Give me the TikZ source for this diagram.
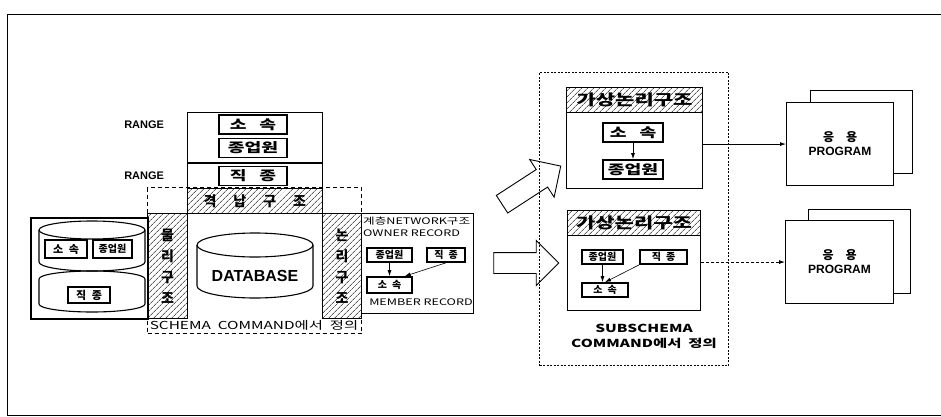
\documentclass[tikz,border=0pt]{standalone}
\usepackage{fontspec}
\setmainfont{Liberation Sans}
\newfontfamily\kr{Noto Sans CJK KR}
\newfontfamily\krwide[FakeStretch=1.4]{Noto Sans CJK KR}
\usetikzlibrary{arrows.meta, positioning, shapes.arrows, patterns.meta}

\begin{document}
\begin{tikzpicture}[x=1pt, y=-1pt,
  frame/.style={draw, line width=0.8pt},
  box/.style={draw, line width=1.1pt, inner sep=0pt},
  hatchbox/.style={box, pattern={Lines[angle=45, distance=4pt, line width=0.6pt]}, font=\kr\bfseries\fontsize{14}{21}\selectfont},
  tag/.style={draw, line width=1.6pt, inner sep=0pt, fill=white, font=\kr\bfseries\fontsize{10}{10}\selectfont},
  bigtag/.style={tag, minimum height=19pt, font=\krwide\bfseries\fontsize{13}{13}\selectfont},
  rangelbl/.style={inner sep=0pt, font=\bfseries\fontsize{11}{12}\selectfont},
  hollow/.style={draw, line width=0.9pt, single arrow, single arrow head extend=12pt, inner xsep=0pt, inner ysep=10pt, fill=white},
  link/.style={-{Latex[length=6pt,width=4pt]}, line width=0.8pt}
]
\useasboundingbox (0,0) rectangle (941,417);
\draw[frame] (941,14) -- (7,14) -- (7,415) -- (941,415);

% schema side
\node[box, minimum width=135pt, minimum height=76pt, anchor=north west] (stack) at (187,112) {};
\draw[line width=1.1pt] (stack.west |- 0,163) -- (stack.east |- 0,163);
\node[bigtag, minimum width=68pt] (rsosok) at (253,124.5) {소\quad 속};
\node[bigtag, minimum width=68pt] (rjong) at (253,148) {종업원};
\node[bigtag, minimum width=68pt] (rjik) at (253,176) {직\quad 종};
\node[rangelbl, left=54pt of rsosok] (range1) {RANGE};
\node[rangelbl, left=54pt of rjik] (range2) {RANGE};

\node[hatchbox, minimum width=135pt, minimum height=25pt, anchor=north west] (store) at (187,188) {격\hspace{17pt}납\hspace{17pt}구\hspace{17pt}조};
\node[hatchbox, minimum width=40pt, minimum height=105pt, anchor=north west, align=center] (phys) at (147,213) {물\\리\\구\\조};
\node[hatchbox, minimum width=39pt, minimum height=105pt, anchor=north west, align=center] (logic) at (322,213) {논\\리\\구\\조};
\node[draw, line width=1.3pt, dash pattern=on 4pt off 3pt, inner sep=0pt, minimum width=214pt, minimum height=146pt, anchor=north west] (schema) at (147,187) {};

% database cylinder
\draw[line width=1.1pt] (255,245) ellipse [x radius=58, y radius=12];
\draw[line width=1.1pt] (197,245) -- (197,286) arc[start angle=180, end angle=0, x radius=58, y radius=12] -- (313,245);
\node[font=\bfseries\fontsize{16}{16}\selectfont] (db) at (255,276) {DATABASE};

% stored files
\node[draw, line width=2.4pt, inner sep=0pt, minimum width=117pt, minimum height=101pt, anchor=north west] (disk) at (30,217) {};
\draw[line width=1.1pt] (92,230) ellipse [x radius=53, y radius=9];
\draw[line width=1.1pt] (39,230) -- (39,262) arc[start angle=180, end angle=0, x radius=53, y radius=9] -- (145,230);
\draw[line width=1.1pt] (39,279) arc[start angle=180, end angle=360, x radius=53, y radius=8];
\draw[line width=1.1pt] (39,279) -- (39,304) arc[start angle=180, end angle=0, x radius=53, y radius=8] -- (145,279);
\node[tag, minimum width=42pt, minimum height=18pt, font=\kr\bfseries\fontsize{11}{11}\selectfont] (dsosok) at (66,249) {소\enspace 속};
\node[tag, minimum width=39pt, minimum height=18pt] (djong) at (112.5,249) {종업원};
\node[tag, minimum width=42pt, minimum height=16pt, font=\kr\bfseries\fontsize{11}{11}\selectfont] (djik) at (89,295) {직\enspace 종};

\node[anchor=north, inner sep=0pt, font=\krwide\fontsize{11}{12}\selectfont] (schemacmd) at (254,320) {SCHEMA\ \ COMMAND에서\ \ 정의};

% network structure
\node[box, minimum width=112pt, minimum height=100pt, anchor=north west] (net) at (361,213) {};
\node[anchor=north west, inner sep=0pt, font=\krwide\fontsize{9}{10}\selectfont] (nettitle) at (363,217) {계층NETWORK구조};
\node[anchor=north west, inner sep=0pt, font=\krwide\fontsize{9}{10}\selectfont] (owner) at (363,230) {OWNER RECORD};
\node[tag, minimum width=45pt, minimum height=14pt] (njong) at (389.5,255) {종업원};
\node[tag, minimum width=38pt, minimum height=14pt] (njik) at (446,255) {직\enspace 종};
\node[tag, minimum width=45pt, minimum height=16pt] (nsosok) at (389.5,285) {소\enspace 속};
\node[inner sep=0pt, font=\krwide\fontsize{9}{10}\selectfont] (member) at (421,302) {MEMBER RECORD};
\draw[link] (njong) -- (nsosok);
\draw[link, line width=0.6pt] (njik.south) -- (nsosok.30);

% hollow arrows
\node[hollow, minimum height=70pt, rotate=33] (flow1) at (527,188) {};
\node[hollow, minimum height=65pt] (flow2) at (521,263) {};

% subschema side
\node[draw, line width=1pt, dash pattern=on 2pt off 1.5pt, inner sep=0pt, minimum width=189pt, minimum height=293pt, anchor=north west] (subschema) at (539,72) {};

\node[hatchbox, minimum width=136pt, minimum height=25pt, anchor=north west, font=\krwide\bfseries\fontsize{15}{15}\selectfont] (vhead1) at (566,87) {가상논리구조};
\node[box, minimum width=136pt, minimum height=76pt, anchor=north west] (vbody1) at (566,112) {};
\node[bigtag, minimum width=60pt] (vsosok1) at (633,132.5) {소\quad 속};
\node[bigtag, minimum width=60pt] (vjong1) at (633,169.5) {종업원};
\draw[link] (vsosok1) -- (vjong1);

\node[hatchbox, minimum width=133pt, minimum height=25pt, anchor=north west, font=\krwide\bfseries\fontsize{15}{15}\selectfont] (vhead2) at (567,210) {가상논리구조};
\node[box, minimum width=133pt, minimum height=75pt, anchor=north west] (vbody2) at (567,235) {};
\node[tag, minimum width=41pt, minimum height=14pt] (vjong2) at (602.5,257) {종업원};
\node[tag, minimum width=47pt, minimum height=14pt] (vjik2) at (663.5,257) {직\enspace 종};
\node[tag, minimum width=46pt, minimum height=14pt] (vsosok2) at (605,290) {소\enspace 속};
\draw[link] (vjong2.south) -- (vjong2.south |- vsosok2.north);
\draw[link, line width=0.6pt] (vjik2.south west) -- (vsosok2.north);

\node[align=center, inner sep=0pt, font=\krwide\bfseries\fontsize{11}{15}\selectfont] (subcmd) at (644,336) {SUBSCHEMA\\COMMAND에서\ \ 정의};

% application programs
\node[box, minimum width=102pt, minimum height=83pt, anchor=north west] (app1b) at (810,90) {};
\node[box, fill=white, minimum width=107pt, minimum height=83pt, anchor=north west, align=center, font=\bfseries\fontsize{12}{14}\selectfont] (app1) at (786,102) {{\kr 응\quad 용}\\PROGRAM};
\node[box, minimum width=102pt, minimum height=84pt, anchor=north west] (app2b) at (808,209) {};
\node[box, fill=white, minimum width=108pt, minimum height=83pt, anchor=north west, align=center, font=\bfseries\fontsize{12}{14}\selectfont] (app2) at (785,220) {{\kr 응\quad 용}\\PROGRAM};

\draw[link] (vbody1.east |- app1.west) -- (app1.west);
\draw[link, densely dashed] (vbody2.east |- app2.west) -- (app2.west);
\end{tikzpicture}
\end{document}
